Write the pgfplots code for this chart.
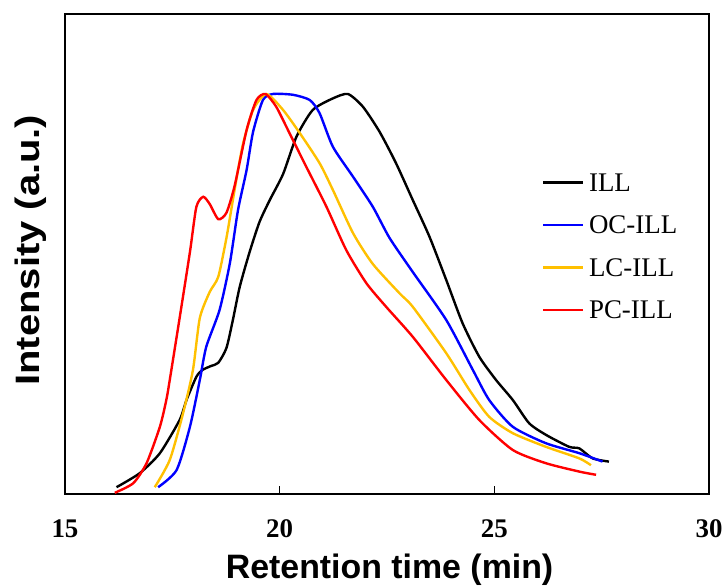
\documentclass[border=0pt]{standalone}
\usepackage{fontspec}
\setmainfont{Liberation Serif}
\newfontfamily\arialfont{Liberation Sans}
\usepackage{pgfplots}
\pgfplotsset{compat=1.18}
\definecolor{lcgold}{RGB}{255,192,0}
\definecolor{ocblue}{RGB}{0,0,255}
\definecolor{pcred}{RGB}{255,0,0}

\begin{document}
\begin{tikzpicture}
\useasboundingbox (-65bp,-92bp) rectangle (660bp,494bp);
\begin{axis}[
    at={(0,0)}, anchor=south west,
    scale only axis,
    width=644bp, height=480bp,
    xmin=15, xmax=30, ymin=0, ymax=1.2,
    xtick={15,20,25,30}, ytick=\empty,
    xtick pos=bottom, tick align=inside,
    major tick length=8bp,
    every tick/.style={black, line width=1.6bp},
    axis line style={line width=2.2bp},
    /pgf/number format/assume math mode=true,
    xticklabel style={font=\fontsize{27}{30}\selectfont\bfseries, anchor=base, yshift=-43bp},
    xlabel={\arialfont\bfseries Retention time (min)},
    xlabel style={font=\fontsize{34}{40}\selectfont, at={(axis description cs:0.504,-0.175)}, anchor=base},
    ylabel={\arialfont\bfseries\scalebox{1.18}[1]{Intensity (a.u.)}},
    ylabel style={font=\fontsize{34}{40}\selectfont, at={(axis description cs:-0.0528,0.508)}, anchor=center},
    legend style={draw=none, fill=none, inner sep=0pt, column sep=6bp, row sep=25.5bp,
        at={(rel axis cs:0.742,0.667)}, anchor=north west,
        font=\fontsize{27}{30}\selectfont,
        nodes={inner sep=0pt, text height=17bp, text depth=0bp}},
    legend cell align=left,
    legend image code/.code={\fill[#1, draw=none] (0bp,-1.4bp) rectangle (40bp,1.4bp);},
    every axis plot/.append style={line width=2.4bp, smooth, tension=0.4},
]

\addplot[black] coordinates {
(16.20,0.017) (16.74,0.052) (17.21,0.102) (17.67,0.185) (17.83,0.235)
(18.06,0.293) (18.20,0.310) (18.40,0.320) (18.57,0.328) (18.76,0.365)
(18.91,0.435) (19.07,0.518) (19.30,0.605) (19.53,0.680) (19.77,0.735)
(20.08,0.800) (20.39,0.893) (20.77,0.960) (21.24,0.989) (21.59,1.000)
(21.94,0.968) (22.33,0.905) (22.71,0.827) (23.10,0.735) (23.49,0.643)
(23.88,0.535) (24.26,0.427) (24.65,0.343) (25.04,0.285) (25.43,0.235)
(25.81,0.177) (26.20,0.148) (26.74,0.118) (26.98,0.114) (27.29,0.089)
(27.67,0.081)
};
\addlegendentry{ILL}

\addplot[ocblue] coordinates {
(17.17,0.017) (17.60,0.060) (17.91,0.168) (18.14,0.285) (18.29,0.368)
(18.60,0.460) (18.84,0.577) (19.03,0.710) (19.23,0.810) (19.38,0.905)
(19.61,0.985) (19.84,1.000) (20.31,0.998) (20.70,0.985) (20.93,0.952)
(21.24,0.868) (21.71,0.793) (22.17,0.718) (22.56,0.640) (23.10,0.555)
(23.88,0.435) (24.50,0.310) (24.88,0.235) (25.43,0.168) (26.20,0.127)
(26.98,0.102) (27.52,0.081)
};
\addlegendentry{OC-ILL}

\addplot[lcgold] coordinates {
(17.09,0.017) (17.44,0.085) (17.75,0.202) (17.98,0.310) (18.14,0.440)
(18.37,0.505) (18.57,0.543) (18.76,0.640) (18.91,0.735) (19.03,0.810)
(19.15,0.877) (19.38,0.960) (19.69,1.000) (20.08,0.960) (20.47,0.902)
(20.93,0.827) (21.24,0.760) (21.71,0.652) (22.17,0.575) (22.79,0.502)
(23.10,0.468) (23.88,0.352) (24.42,0.260) (24.88,0.193) (25.43,0.152)
(26.20,0.118) (26.98,0.089) (27.25,0.072)
};
\addlegendentry{LC-ILL}

\addplot[pcred] coordinates {
(16.16,0.003) (16.59,0.027) (16.90,0.077) (17.21,0.168) (17.36,0.235)
(17.44,0.285) (17.67,0.440) (17.91,0.605) (18.06,0.718) (18.22,0.743)
(18.37,0.725) (18.57,0.687) (18.76,0.703) (18.95,0.770) (19.23,0.910)
(19.46,0.985) (19.67,1.000) (19.92,0.968) (20.23,0.902) (20.62,0.818)
(21.09,0.718) (21.55,0.610) (22.02,0.527) (22.48,0.468) (23.10,0.393)
(23.88,0.285) (24.65,0.185) (25.43,0.110) (26.20,0.077) (26.98,0.056)
(27.37,0.048)
};
\addlegendentry{PC-ILL}

\end{axis}
\end{tikzpicture}
\end{document}
